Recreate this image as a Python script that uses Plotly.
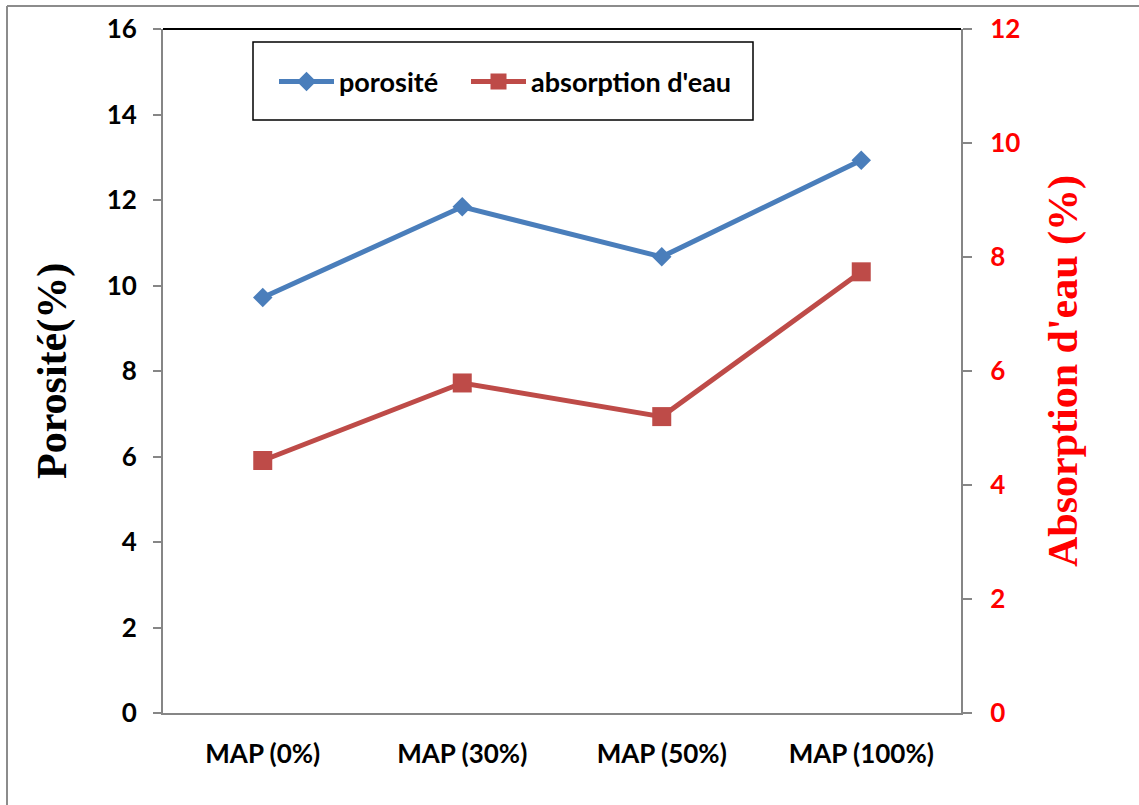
import plotly.graph_objects as go

# Data
categories = ["MAP (0%)", "MAP (30%)", "MAP (50%)", "MAP (100%)"]
porosite = [9.72, 11.84, 10.67, 12.93]
absorption = [4.43, 5.79, 5.20, 7.74]
left_tickvals = [0, 2, 4, 6, 8, 10, 12, 14, 16]
right_tickvals = [0, 2, 4, 6, 8, 10, 12]

# Page geometry (pixels)
W, H = 1139, 805
ML, MR, MT, MB = 163, 178, 29, 92
PW, PH = W - ML - MR, H - MT - MB


def px(x):
    return (x - ML) / PW


def py(y):
    return (H - MB - y) / PH


BLUE = "#4A7EBB"
RED = "#BE4B48"
GRAY = "#868686"
SANS = "Lato, 'Open Sans', sans-serif"
SERIF = "'Liberation Serif', 'Times New Roman', serif"

fig = go.Figure()
fig.add_trace(go.Scatter(
    x=categories, y=porosite, name="porosité", mode="lines+markers",
    line=dict(color=BLUE, width=5),
    marker=dict(symbol="diamond", size=15, color=BLUE),
    yaxis="y", legend="legend",
))
fig.add_trace(go.Scatter(
    x=categories, y=absorption, name="absorption d'eau", mode="lines+markers",
    line=dict(color=RED, width=5),
    marker=dict(symbol="square", size=19, color=RED),
    yaxis="y2", legend="legend2",
))

legend_style = dict(
    orientation="h", xanchor="left", yanchor="middle", y=py(82),
    font=dict(family=SANS, size=27, color="black", weight="bold"),
    itemwidth=55, bgcolor="rgba(0,0,0,0)", borderwidth=0,
)

fig.update_layout(
    width=W, height=H,
    margin=dict(l=ML, r=MR, t=MT, b=MB),
    paper_bgcolor="white", plot_bgcolor="white",
    showlegend=True,
    legend=dict(x=px(274), **legend_style),
    legend2=dict(x=px(466), **legend_style),
    xaxis=dict(
        type="category", categoryorder="array", categoryarray=categories,
        range=[-0.5, 3.5], showline=True, linecolor=GRAY, linewidth=2,
        ticks="", showgrid=False, zeroline=False,
        tickfont=dict(family=SANS, size=26, color="black", weight="bold"),
        ticklabelstandoff=17,
    ),
    yaxis=dict(
        range=[0, 16], tickvals=left_tickvals, showline=True, linecolor=GRAY,
        linewidth=2, ticks="outside", ticklen=8, tickcolor=GRAY, tickwidth=2,
        showgrid=False, zeroline=False,
        tickfont=dict(family=SANS, size=26, color="black", weight="bold"),
        ticklabelstandoff=11,
    ),
    yaxis2=dict(
        range=[0, 12], tickvals=right_tickvals, overlaying="y", side="right",
        showline=True, linecolor=GRAY, linewidth=2, ticks="outside", ticklen=9,
        tickcolor=GRAY, tickwidth=2, showgrid=False, zeroline=False,
        tickfont=dict(family=SANS, size=26, color="red", weight="bold"),
        ticklabelstandoff=13,
    ),
    shapes=[
        # plot-area top edge
        dict(type="line", xref="paper", yref="paper", x0=0, x1=1, y0=1, y1=1,
             line=dict(color="black", width=2)),
        # legend frame
        dict(type="rect", xref="paper", yref="paper", x0=px(253), x1=px(753),
             y0=py(120), y1=py(42), line=dict(color="black", width=1.5)),
        # chart-area frame (left and top edges)
        dict(type="line", xref="paper", yref="paper", x0=px(7), x1=px(7),
             y0=py(6), y1=py(805), line=dict(color="#8C8C8C", width=2)),
        dict(type="line", xref="paper", yref="paper", x0=px(7), x1=px(1139),
             y0=py(6), y1=py(6), line=dict(color="#8C8C8C", width=2)),
    ],
    annotations=[
        dict(text="Porosité(%)", xref="paper", yref="paper", x=px(52), y=0.5,
             xanchor="center", yanchor="middle", textangle=-90, showarrow=False,
             font=dict(family=SERIF, size=42, color="black", weight="bold")),
        dict(text="Absorption d'eau (%)", xref="paper", yref="paper", x=px(1063),
             y=0.5, xanchor="center", yanchor="middle", textangle=-90,
             showarrow=False,
             font=dict(family=SERIF, size=42, color="red", weight="bold")),
    ],
)

fig.write_html("out.html")
